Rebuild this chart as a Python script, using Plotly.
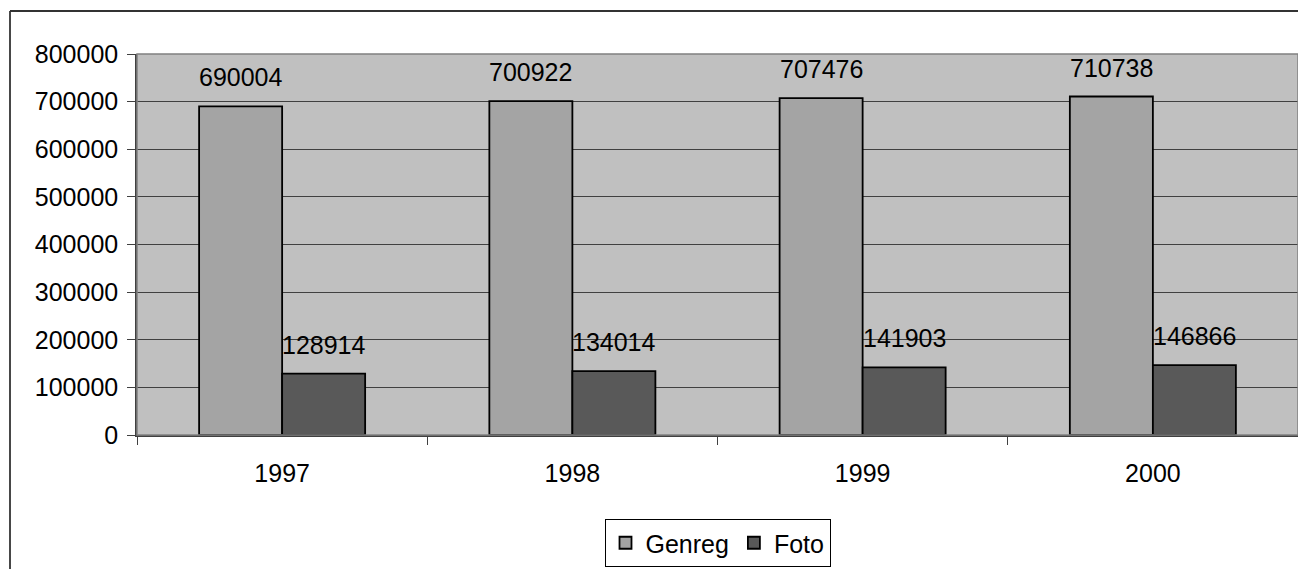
import plotly.graph_objects as go

years = ["1997", "1998", "1999", "2000"]
genreg = [690004, 700922, 707476, 710738]
foto = [128914, 134014, 141903, 146866]
y_ticks = [0, 100000, 200000, 300000, 400000, 500000, 600000, 700000, 800000]

# page body has an 8px margin; work in reference pixel coords and shift
OFF = 8
W, H = 1306 - OFF, 569 - OFF
PL, PR, PT, PB = 137, 1298, 54, 435  # plot area in reference pixels
L, T = PL - OFF, PT - OFF
R = W - (PR - OFF)
B = H - (PB - OFF)
pw, ph = PR - PL, PB - PT

FONT = "Liberation Sans, Arial, sans-serif"
FS = 25

fig = go.Figure()
fig.add_trace(go.Bar(name="Genreg", x=years, y=genreg,
                     marker=dict(color="#a4a4a4", line=dict(color="#000000", width=1.8))))
fig.add_trace(go.Bar(name="Foto", x=years, y=foto,
                     marker=dict(color="#595959", line=dict(color="#000000", width=1.8))))

annotations = []
for i, yr in enumerate(years):
    annotations.append(dict(x=i, xref="x", y=genreg[i], yref="y", text=str(genreg[i]),
                            showarrow=False, xshift=-41.5, yshift=29, yanchor="middle",
                            font=dict(family=FONT, size=FS, color="#000000")))
    annotations.append(dict(x=i, xref="x", y=foto[i], yref="y", text=str(foto[i]),
                            showarrow=False, xshift=41.5, yshift=29, yanchor="middle",
                            font=dict(family=FONT, size=FS, color="#000000")))

def px_x(p):
    return (p - PL) / pw

def px_y(p):
    return (PB - p) / ph

shapes = [
    dict(type="rect", xref="paper", yref="paper", x0=0, x1=1, y0=0, y1=1,
         line=dict(color="#808080", width=1.5), layer="above"),
    dict(type="line", xref="paper", yref="paper", x0=px_x(10), x1=px_x(1320),
         y0=px_y(11), y1=px_y(11), line=dict(color="#333333", width=1.8)),
    dict(type="line", xref="paper", yref="paper", x0=px_x(10), x1=px_x(10),
         y0=px_y(11), y1=px_y(600), line=dict(color="#333333", width=1.8)),
]

fig.update_layout(
    width=W, height=H,
    margin=dict(l=L, r=R, t=T, b=B, pad=0, autoexpand=False),
    paper_bgcolor="#ffffff",
    plot_bgcolor="#c0c0c0",
    barmode="group",
    bargap=0.428,
    bargroupgap=0,
    font=dict(family=FONT, size=FS, color="#000000"),
    annotations=annotations,
    shapes=shapes,
    showlegend=True,
    legend=dict(orientation="h", x=0.5, xanchor="center", y=px_y(543), yanchor="middle",
                bordercolor="#000000", borderwidth=1, bgcolor="#ffffff",
                font=dict(family=FONT, size=FS, color="#000000"),
                itemwidth=30, tracegroupgap=0),
    xaxis=dict(type="category", range=[-0.5, 3.5], autorange=False,
               tickson="boundaries", ticks="outside", ticklen=8,
               tickcolor="#404040", tickwidth=1, showline=True, linecolor="#404040",
               linewidth=1.5, showgrid=False, ticklabelstandoff=15, tickangle=0,
               tickfont=dict(family=FONT, size=FS, color="#000000")),
    yaxis=dict(range=[0, 800000], autorange=False, tickvals=y_ticks,
               ticktext=[str(v) for v in y_ticks],
               ticks="outside", ticklen=8, tickcolor="#404040", tickwidth=1,
               showline=True, linecolor="#404040", linewidth=1.5,
               showgrid=True, gridcolor="#404040", gridwidth=1, zeroline=False,
               ticklabelstandoff=4,
               tickfont=dict(family=FONT, size=FS, color="#000000")),
)

fig.write_html("out.html")
